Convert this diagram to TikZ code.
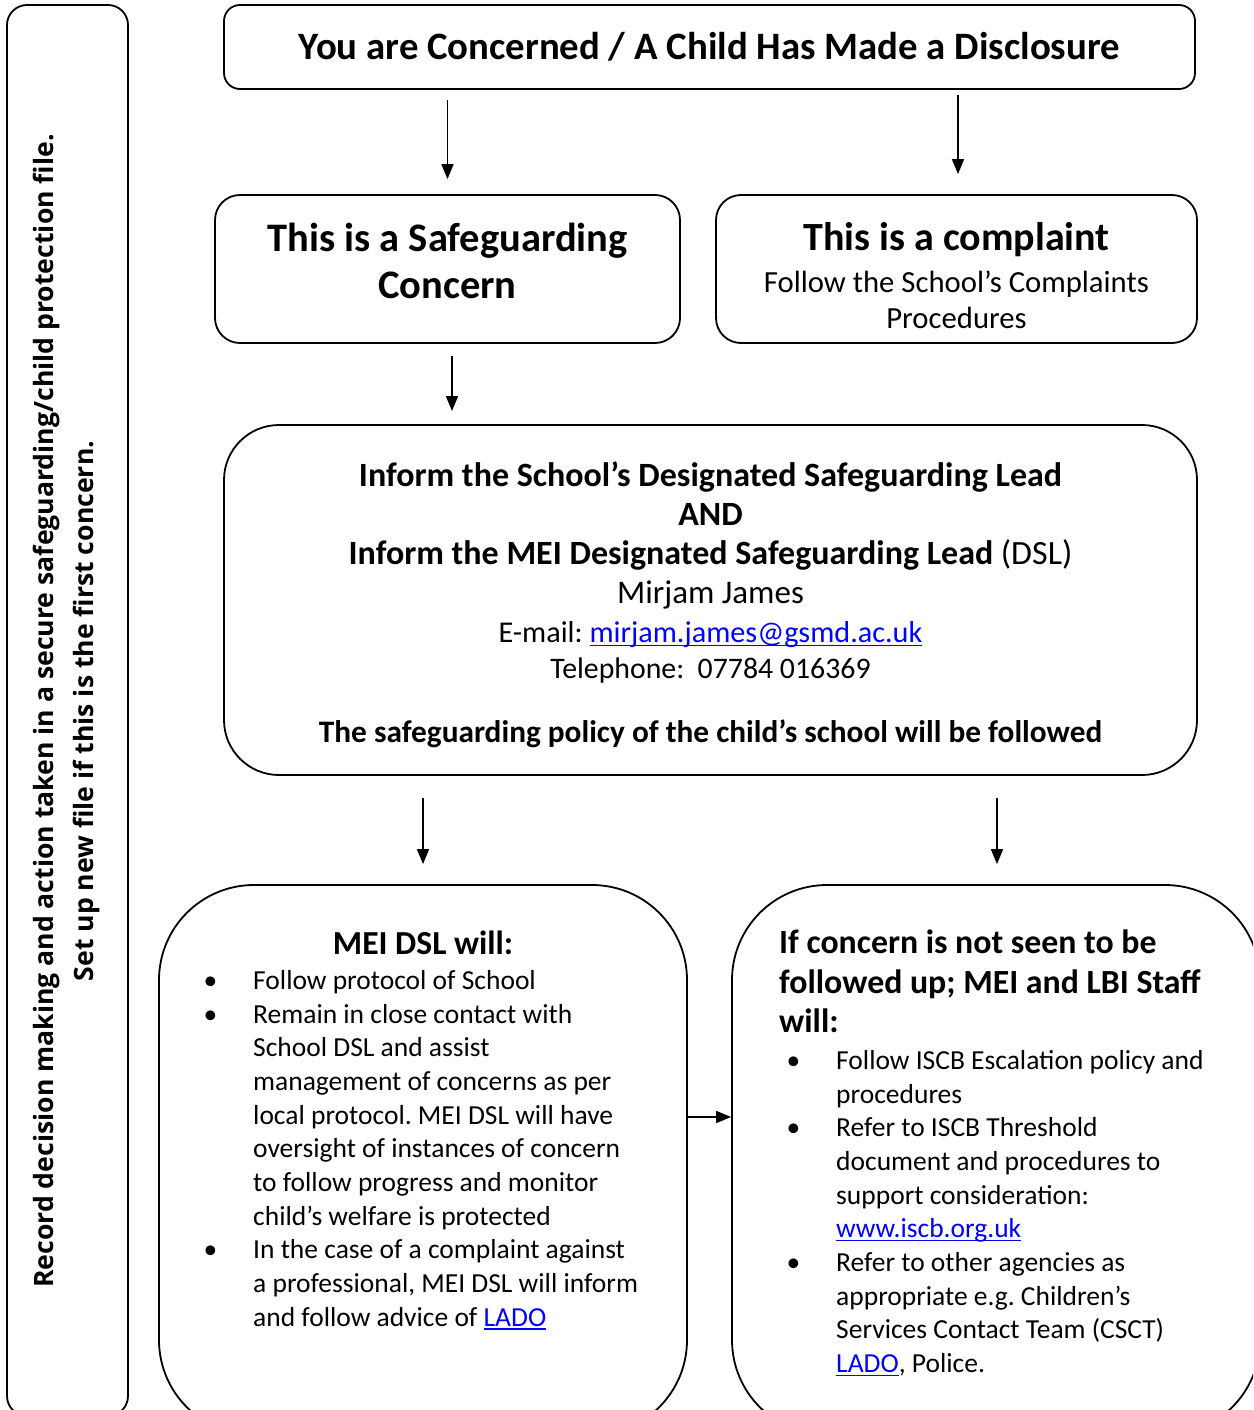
\documentclass[tikz,border=0pt]{standalone}
\usepackage{fontspec}
\setmainfont{Carlito}
\newfontfamily\sidefont{Open Sans}
\usetikzlibrary{arrows.meta,positioning}
\definecolor{linkblue}{HTML}{0000FF}
\newcommand{\lnk}[1]{\textcolor{linkblue}{\setbox0\hbox{#1}\rlap{\rule[-3.5pt]{\wd0}{1.5pt}}\box0}}
\newcommand{\bul}{\llap{\textbullet\hspace{36pt}}}
\frenchspacing

\begin{document}
\begin{tikzpicture}[x=1pt, y=-1pt,
  box/.style={draw, line width=1.8pt, rounded corners=#1, inner sep=0pt, align=center},
  box/.default=16pt,
  head/.style={font=\bfseries\fontsize{40.5}{47}\selectfont},
  body/.style={font=\fontsize{27.5}{33.7}\selectfont},
  txt/.style={inner sep=0pt, align=left},
  arr/.style={-{Triangle[length=15pt,width=12pt]}, line width=1.5pt}]
\useasboundingbox (0,0) rectangle (1253,1410);
\clip (0,0) rectangle (1253,1410);
% side bar
\node[box=20pt, minimum width=121pt, minimum height=1411pt] (side) at (67.5,710.5) {};
\node[rotate=90, inner sep=0pt, align=center, font=\sidefont\bfseries\fontsize{26.6}{40}\selectfont] (sidetxt) at (66.5,711)
  {Record decision making and action taken in a secure safeguarding/child protection file.\\
   Set up new file if this is the first concern.};
% top row
\node[box, minimum width=971pt, minimum height=84pt, font=\bfseries\fontsize{38.8}{45}\selectfont] (top) at (709.5,47)
  {\rule[-2pt]{0pt}{0pt}You are Concerned / A Child Has Made a Disclosure};
\node[box=25pt, head, minimum width=465pt, minimum height=148pt] (safe) at (447.5,269)
  {This is a Safeguarding\\Concern\rule[-16pt]{0pt}{0pt}};
\node[box=25pt, font=\fontsize{30.7}{36}\selectfont, minimum width=481pt, minimum height=148pt] (compl) at (956.5,269)
  {{\bfseries\fontsize{40}{40}\selectfont\rule{0pt}{42pt}This is a complaint}\\[6pt]
   Follow the School’s Complaints\\Procedures};
% inform box
\node[box=55pt, minimum width=973pt, minimum height=350pt, font=\fontsize{34}{39}\selectfont] (inform) at (710.5,600)
  {\textbf{\rule{0pt}{34.5pt}Inform the School’s Designated Safeguarding Lead}\\
   \textbf{AND}\\
   \textbf{Inform the MEI Designated Safeguarding Lead} (DSL)\\
   {\fontsize{33}{39}\selectfont Mirjam James}\\
   {\fontsize{30.2}{39}\selectfont E-mail: \lnk{mirjam.james@gsmd.ac.uk}}\\[-3pt]
   {\fontsize{29.8}{39}\selectfont Telephone:\ \ 07784 016369}\\[25pt]
   {\bfseries\fontsize{31.3}{39}\selectfont The safeguarding policy of the child’s school will be followed}};
% bottom boxes
\node[box=95pt, minimum width=528pt, minimum height=550pt] (dsl) at (423,1160) {};
\node[box=95pt, minimum width=528pt, minimum height=550pt] (staff) at (996,1160) {};
\node[inner sep=0pt, font=\bfseries\fontsize{33.6}{39}\selectfont] (dslhead) at (423,943) {MEI DSL will:};
\node[txt, body, anchor=north west] (dsllist) at (253,970)
  {\bul Follow protocol of School\\
   \bul Remain in close contact with\\
   School DSL and assist\\
   management of concerns as per\\
   local protocol. MEI DSL will have\\
   oversight of instances of concern\\
   to follow progress and monitor\\
   child’s welfare is protected\\
   \bul In the case of a complaint against\\
   a professional, MEI DSL will inform\\
   and follow advice of \lnk{LADO}};
\node[txt, anchor=north west, font=\bfseries\fontsize{33.8}{39.5}\selectfont] (staffhead) at (779,930)
  {If concern is not seen to be\\followed up; MEI and LBI Staff\\will:};
\node[txt, body, anchor=north west] (stafflist) at (836,1050)
  {\bul Follow ISCB Escalation policy and\\
   procedures\\
   \bul Refer to ISCB Threshold\\
   document and procedures to\\
   support consideration:\\
   \lnk{www.iscb.org.uk}\\
   \bul Refer to other agencies as\\
   appropriate e.g. Children’s\\
   Services Contact Team (CSCT)\\
   \lnk{LADO}, Police.};
% arrows
\draw[arr, shorten <=10pt, shorten >=15pt] (top.south -| safe.north) -- (safe.north);
\draw[arr, shorten <=5pt, shorten >=20pt] ([xshift=1.5pt]top.south -| compl.north) -- ([xshift=1.5pt]compl.north);
\draw[arr, shorten <=12pt, shorten >=13pt] ([xshift=4.5pt]safe.south) -- ([xshift=4.5pt]safe.south |- inform.north);
\draw[arr, shorten <=22pt, shorten >=20pt] (inform.south -| dsl.north) -- (dsl.north);
\draw[arr, shorten <=22pt, shorten >=20pt] ([xshift=1pt]inform.south -| staff.north) -- ([xshift=1pt]staff.north);
\draw[arr] ([yshift=43pt]dsl.east) -- ([yshift=43pt]staff.west);
\end{tikzpicture}
\end{document}
